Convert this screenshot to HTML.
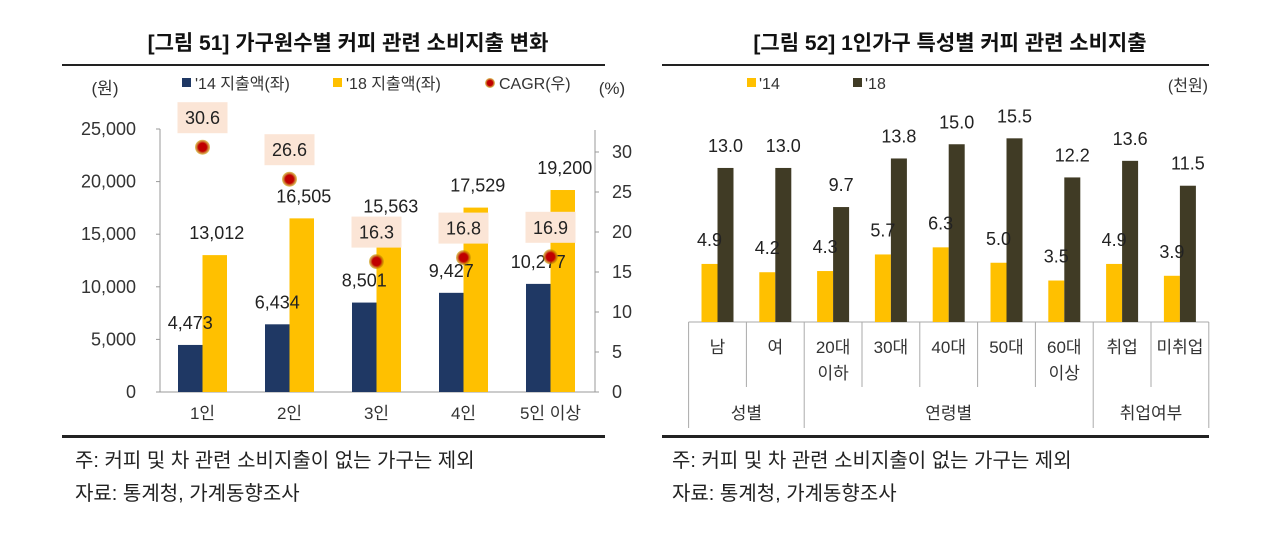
<!DOCTYPE html>
<html><head><meta charset="utf-8"><style>
html,body{margin:0;padding:0;background:#fff;}
svg{display:block;font-family:"Liberation Sans","Noto Sans CJK KR",sans-serif;}
</style></head><body>
<svg id="s" width="1280" height="550" viewBox="0 0 1280 550" xmlns="http://www.w3.org/2000/svg">
<defs><radialGradient id="glow"><stop offset="0.55" stop-color="#c00000"/><stop offset="1" stop-color="#c9a800" stop-opacity="0.6"/></radialGradient></defs>
<text x="348" y="50" text-anchor="middle" font-size="21" font-weight="bold" fill="#111">[그림 51] 가구원수별 커피 관련 소비지출 변화</text>
<text x="950" y="50" text-anchor="middle" font-size="21" font-weight="bold" fill="#111">[그림 52] 1인가구 특성별 커피 관련 소비지출</text>
<rect x="62" y="64" width="543" height="2" fill="#222"/>
<rect x="62" y="435" width="543" height="3" fill="#222"/>
<rect x="662" y="64" width="547" height="2" fill="#222"/>
<rect x="662" y="435" width="547" height="3" fill="#222"/>
<text x="75" y="467" font-size="20" fill="#222">주: 커피 및 차 관련 소비지출이 없는 가구는 제외</text>
<text x="75" y="500" font-size="20" fill="#222">자료: 통계청, 가계동향조사</text>
<text x="672" y="467" font-size="20" fill="#222">주: 커피 및 차 관련 소비지출이 없는 가구는 제외</text>
<text x="672" y="500" font-size="20" fill="#222">자료: 통계청, 가계동향조사</text>
<g id="L"></g><g id="R"></g>
</svg>
<script>
const leftCats=['1인','2인','3인','4인','5인 이상'];
const spend14=[4473,6434,8501,9427,10277];
const spend18=[13012,16505,15563,17529,19200];
const cagr=[30.6,26.6,16.3,16.8,16.9];
const leftTicks=[0,5000,10000,15000,20000,25000];
const rightTicks=[0,5,10,15,20,25,30];

const rightCats=[['남'],['여'],['20대','이하'],['30대'],['40대'],['50대'],['60대','이상'],['취업'],['미취업']];
const v14=[4.9,4.2,4.3,5.7,6.3,5.0,3.5,4.9,3.9];
const v18=[13.0,13.0,9.7,13.8,15.0,15.5,12.2,13.6,11.5];
const groups=[['성별',0,2],['연령별',2,7],['취업여부',7,9]];

{
const NS='http://www.w3.org/2000/svg';
function mk(parent,tag,attrs,txt){const e=document.createElementNS(NS,tag);for(const k in attrs)e.setAttribute(k,attrs[k]);if(txt!==undefined)e.textContent=txt;parent.appendChild(e);return e;}
const fmt=n=>n.toLocaleString('en-US');

const L=document.getElementById('L');
const x0=160,x1=595,base=392,yTop=129;
const yL=v=>base-(v/25000)*(base-yTop);
const yR=v=>base-v*8;
const gw=(x1-x0)/leftCats.length;
const cx=i=>x0+gw*(i+0.5)-1;
let e;
e=mk(L,'line',{x1:x0,y1:yTop,x2:x0,y2:base,stroke:'#999'});


e=mk(L,'line',{x1:x1,y1:130,x2:x1,y2:base,stroke:'#999'});


e=mk(L,'line',{x1:x0-4,y1:base,x2:x1,y2:base,stroke:'#999'});


leftTicks.forEach(t=>{
  mk(L,'line',{x1:x0-4,y1:yL(t),x2:x0,y2:yL(t),stroke:'#999'});
  e=mk(L,'text',{x:136,y:yL(t)+6,'text-anchor':'end','font-size':18,fill:'#333'},fmt(t));
  
  
});
rightTicks.forEach(t=>{
  mk(L,'line',{x1:x1,y1:yR(t),x2:x1+4,y2:yR(t),stroke:'#999'});
  e=mk(L,'text',{x:612,y:yR(t)+6,'font-size':18,fill:'#333'},t);
  
  
});
e=mk(L,'text',{x:105,y:94,'text-anchor':'middle','font-size':17,fill:'#333'},'(원)');


e=mk(L,'text',{x:612,y:94,'text-anchor':'middle','font-size':17,fill:'#333'},'(%)');


e=mk(L,'rect',{x:182,y:78,width:9,height:9,fill:'#1f3864'});


e=mk(L,'text',{x:195,y:89,'font-size':16,fill:'#333'},"'14 지출액(좌)");


e=mk(L,'rect',{x:333,y:78,width:9,height:9,fill:'#ffc000'});


e=mk(L,'text',{x:346,y:89,'font-size':16,fill:'#333'},"'18 지출액(좌)");


e=mk(L,'circle',{cx:490,cy:83,r:5,fill:'url(#glow)'});


e=mk(L,'text',{x:499,y:89,'font-size':16,fill:'#333'},'CAGR(우)');


const bw=24.5;
leftCats.forEach((c,i)=>{
  const c0=cx(i);
  e=mk(L,'rect',{x:c0-bw,y:yL(spend14[i]),width:bw,height:base-yL(spend14[i]),fill:'#1f3864'});
  
  
  e=mk(L,'rect',{x:c0,y:yL(spend18[i]),width:bw,height:base-yL(spend18[i]),fill:'#ffc000'});
  
  
  e=mk(L,'text',{x:c0+bw/2+2,y:yL(spend18[i])-16,'text-anchor':'middle','font-size':18,fill:'#222'},fmt(spend18[i]));
  
  
  e=mk(L,'text',{x:c0-bw/2,y:yL(spend14[i])-16,'text-anchor':'middle','font-size':18,fill:'#222'},fmt(spend14[i]));
  
  
  e=mk(L,'text',{x:c0,y:419,'text-anchor':'middle','font-size':17,fill:'#333'},c);
  
  
});
leftCats.forEach((c,i)=>{
  const c0=cx(i),py=yR(cagr[i]);
  e=mk(L,'rect',{x:c0-25,y:py-45,width:50,height:31,fill:'#fbe5d6'});
  
  
  e=mk(L,'text',{x:c0,y:py-23,'text-anchor':'middle','font-size':18,fill:'#222'},cagr[i].toFixed(1));
  
  
  e=mk(L,'circle',{cx:c0,cy:py,r:7.5,fill:'url(#glow)'});
  
  
});

const R=document.getElementById('R');
const rx0=688.6,cw=57.8,rb=322,sc=11.85;
const ry=v=>rb-v*sc;
e=mk(R,'rect',{x:747,y:78,width:9,height:9,fill:'#ffc000'});


e=mk(R,'text',{x:759,y:89,'font-size':16,fill:'#333'},"'14");


e=mk(R,'rect',{x:853,y:78,width:9,height:9,fill:'#403b25'});


e=mk(R,'text',{x:865,y:89,'font-size':16,fill:'#333'},"'18");


e=mk(R,'text',{x:1208,y:91,'text-anchor':'end','font-size':16,fill:'#333'},'(천원)');


e=mk(R,'line',{x1:rx0,y1:rb,x2:rx0+cw*9,y2:rb,stroke:'#aaa'});


const groupEdges=[0,2,7,9];
for(let k=0;k<=9;k++){
  const x=rx0+cw*k;
  e=mk(R,'line',{x1:x,y1:rb,x2:x,y2:groupEdges.includes(k)?428:387,stroke:'#aaa'});
  
  
}
rightCats.forEach((c,i)=>{
  const c0=rx0+cw*(i+0.5);
  e=mk(R,'rect',{x:c0-16,y:ry(v14[i]),width:16,height:rb-ry(v14[i]),fill:'#ffc000'});
  
  
  e=mk(R,'rect',{x:c0,y:ry(v18[i]),width:16,height:rb-ry(v18[i]),fill:'#403b25'});
  
  
  e=mk(R,'text',{x:c0+8,y:ry(v18[i])-16,'text-anchor':'middle','font-size':18,fill:'#222'},v18[i].toFixed(1));
  
  
  e=mk(R,'text',{x:c0-8,y:ry(v14[i])-18,'text-anchor':'middle','font-size':18,fill:'#222'},v14[i].toFixed(1));
  
  
  c.forEach((ln,j)=>{
    e=mk(R,'text',{x:c0,y:353+j*26,'text-anchor':'middle','font-size':17,fill:'#333'},ln);
    
    
  });
});
groups.forEach(g=>{
  const c0=rx0+cw*(g[1]+g[2])/2;
  e=mk(R,'text',{x:c0,y:419,'text-anchor':'middle','font-size':17,fill:'#333'},g[0]);
  
  
});
}
</script>
</body></html>
